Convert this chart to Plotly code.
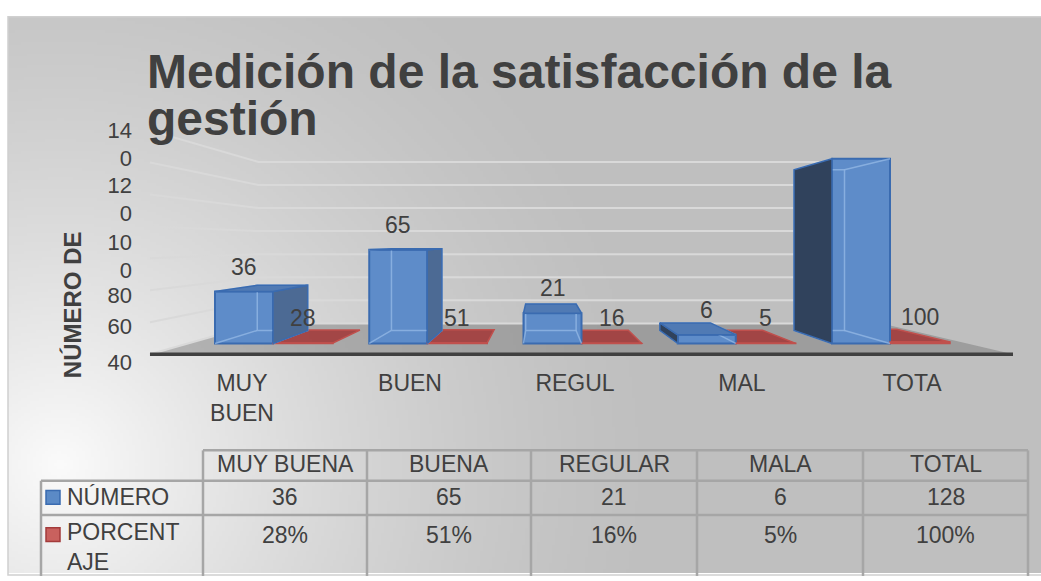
import base64
import struct
import zlib

import numpy as np
import plotly.graph_objects as go

# ---------------- data ----------------
categories = ["MUY BUENA", "BUENA", "REGULAR", "MALA", "TOTAL"]
axis_labels = ["MUY<br>BUEN", "BUEN", "REGUL", "MAL", "TOTA"]
numero = [36, 65, 21, 6, 128]
porcentaje = [28, 51, 16, 5, 100]
series_names = ["NÚMERO", "PORCENTAJE"]
series_legend_labels = ["NÚMERO", "PORCENT<br>AJE"]
y_tick_labels = ["40", "60", "80", "10<br>0", "12<br>0", "14<br>0"]
grid_values = [0, 20, 40, 60, 80, 100, 120, 140]
title_lines = ["Medición de la satisfacción de la", "gestión"]
y_title = "NÚMERO DE"
blue_label_shown = [True, True, True, True, False]

# ---------------- style / geometry ----------------
W, H = 1041, 581
FONT = "Liberation Sans, Arial, Helvetica, sans-serif"
TXT = "#404040"
BLUE_FRONT = "rgb(94,140,201)"
BLUE_EDGE = "#3A6BB0"
BLUE_RIGHT = "rgb(76,106,148)"
BLUE_LEFT = "rgb(48,66,92)"
BLUE_TOP = "rgb(80,122,180)"
BLUE_HIDDEN = "rgba(150,185,230,0.75)"
RED_FILL = "rgba(163,62,62,0.92)"
RED_EDGE = "#C0504D"
GRID = "#D9D9D9"
TABLE_LINE = "#A6A6A6"

PX_X0, PX_DX = 244.0, 154.25     # pixel of category 0, pixels per category
PX_Y0, PX_DV = 347.0, 1.47       # pixel of value 0, pixels per unit
PLOT_L, PLOT_R, PLOT_T, PLOT_B = 133, 1013, 120, 371


def xd(px):
    return (px - PX_X0) / PX_DX


def yd(py):
    return (PX_Y0 - py) / PX_DV


def xp(px):
    return px / W


def yp(py):
    return 1 - py / H


VPX, VPY = xd(540), yd(245)
S_BAR, S_WALL, S_FLOOR = 0.87, 0.80, 1.108
XL, XR = xd(188), xd(967)
HALF_BLUE = 29 / PX_DX
RED_W = 60 / PX_DX
LABEL_SHIFT = 25
y_tick_px = [366, 330, 298, 258, 200, 144]
x_tick_px = [242, 410, 575, 742, 912]


def proj(x, v, s):
    return (VPX + s * (x - VPX), VPY + s * (v - VPY))


def svg_path(points, close=True):
    s = "M " + " L ".join(f"{x:.5f},{y:.5f}" for x, y in points)
    return s + (" Z" if close else "")


def add_poly(xs, ys, pts):
    for x, y in pts:
        xs.append(x)
        ys.append(y)
    xs.append(pts[0][0])
    ys.append(pts[0][1])
    xs.append(None)
    ys.append(None)


# ---------------- gradient background ----------------
def gray_png(arr):
    h, w = arr.shape
    raw = b"".join(b"\x00" + arr[r].tobytes() for r in range(h))

    def chunk(t, data):
        return (struct.pack(">I", len(data)) + t + data
                + struct.pack(">I", zlib.crc32(t + data) & 0xFFFFFFFF))

    ihdr = struct.pack(">IIBBBBB", w, h, 8, 0, 0, 0, 0)
    return (b"\x89PNG\r\n\x1a\n" + chunk(b"IHDR", ihdr)
            + chunk(b"IDAT", zlib.compress(raw, 9)) + chunk(b"IEND", b""))


gw, gh = 345, 189
gx = 8 + (np.arange(gw) + 0.5) * (W - 8) / gw
gy = 14 + (np.arange(gh) + 0.5) * (H - 14) / gh
GX, GY = np.meshgrid(gx, gy)
dist = np.hypot(GX - 60, GY - 470)
fval = np.clip(1 - dist / 620, 0, 1) ** 1.5
gimg = np.clip(191 + 60 * fval, 0, 255).astype(np.uint8)
bg_src = "data:image/png;base64," + base64.b64encode(gray_png(gimg)).decode()

# ---------------- figure ----------------
idx = list(range(len(categories)))
pct_frac = [p / 100 for p in porcentaje]

fig = go.Figure()

# front faces
fig.add_trace(go.Bar(
    x=idx, y=numero, name=series_names[0], width=2 * HALF_BLUE, offset=-HALF_BLUE,
    marker=dict(color=BLUE_FRONT, line=dict(color=BLUE_EDGE, width=2)),
    hoverinfo="skip", showlegend=False))
fig.add_trace(go.Bar(
    x=idx, y=pct_frac, name=series_names[1], width=RED_W, offset=HALF_BLUE,
    marker=dict(color=RED_FILL, line=dict(color=RED_EDGE, width=1.5)),
    hoverinfo="skip", showlegend=False))

# hidden (see-through) edges of the blue bars
hx, hy = [], []
for i, v in zip(idx, numero):
    x0, x1 = i - HALF_BLUE, i + HALF_BLUE
    back = [proj(x0, 0, S_BAR), proj(x1, 0, S_BAR), proj(x1, v, S_BAR), proj(x0, v, S_BAR)]
    add_poly(hx, hy, back)
    for cx, cv in [(x0, 0), (x1, 0), (x1, v), (x0, v)]:
        a, b = proj(cx, cv, 1), proj(cx, cv, S_BAR)
        hx += [a[0], b[0], None]
        hy += [a[1], b[1], None]
fig.add_trace(go.Scatter(x=hx, y=hy, mode="lines", line=dict(color=BLUE_HIDDEN, width=1.5),
                         hoverinfo="skip", showlegend=False))

# side / top faces of blue bars
sx_r, sy_r, sx_l, sy_l, tx, ty = [], [], [], [], [], []
for i, v in zip(idx, numero):
    x0, x1 = i - HALF_BLUE, i + HALF_BLUE
    if x1 < VPX:
        add_poly(sx_r, sy_r, [proj(x1, 0, 1), proj(x1, v, 1), proj(x1, v, S_BAR), proj(x1, 0, S_BAR)])
    if x0 > VPX:
        add_poly(sx_l, sy_l, [proj(x0, 0, 1), proj(x0, v, 1), proj(x0, v, S_BAR), proj(x0, 0, S_BAR)])
    if v < VPY:
        add_poly(tx, ty, [proj(x0, v, 1), proj(x1, v, 1), proj(x1, v, S_BAR), proj(x0, v, S_BAR)])
for xs_, ys_, col in [(sx_r, sy_r, BLUE_RIGHT), (sx_l, sy_l, BLUE_LEFT), (tx, ty, BLUE_TOP)]:
    fig.add_trace(go.Scatter(x=xs_, y=ys_, mode="lines", fill="toself", fillcolor=col,
                             line=dict(color=BLUE_EDGE, width=1.5), hoverinfo="skip",
                             showlegend=False))

# ---------------- shapes ----------------
shapes = []
# chart area border
shapes.append(dict(type="rect", xref="paper", yref="paper", x0=xp(8), x1=xp(W + 2),
                   y0=yp(H + 2), y1=yp(14), line=dict(color="#D0D0D0", width=1.5),
                   fillcolor="rgba(0,0,0,0)", layer="below"))
# floor
floor_pts = [proj(XL, 0, S_FLOOR), proj(XR, 0, S_FLOOR), proj(XR, 0, S_WALL), proj(XL, 0, S_WALL)]
shapes.append(dict(type="path", xref="x", yref="y", path=svg_path(floor_pts),
                   fillcolor="rgba(110,110,110,0.42)", line=dict(width=0), layer="below"))
# gridlines on side and back walls
for g in grid_values:
    pts = [proj(XL, g, S_FLOOR), proj(XL, g, S_WALL), proj(XR, g, S_WALL)]
    shapes.append(dict(type="path", xref="x", yref="y", path=svg_path(pts, close=False),
                       line=dict(color=GRID, width=2), layer="below"))
# floor front edge
a, b = proj(XL, 0, S_FLOOR), proj(XR, 0, S_FLOOR)
shapes.append(dict(type="line", xref="x", yref="y", x0=a[0], y0=a[1], x1=b[0], y1=b[1],
                   line=dict(color="#404040", width=3.5), layer="below"))
# red slabs (flat, at floor level, behind the blue front faces)
for i, h in zip(idx, pct_frac):
    x0, x1 = i + HALF_BLUE, i + HALF_BLUE + RED_W
    pts = [proj(x0, h, 1), proj(x1, h, 1), proj(x1, h, S_BAR), proj(x0, h, S_BAR)]
    shapes.append(dict(type="path", xref="x", yref="y", path=svg_path(pts),
                       fillcolor=RED_FILL, line=dict(color=RED_EDGE, width=1.5), layer="below"))

# data table grid
col_edges = [203, 367, 531, 697, 863, 1028]
row_edges = [456, 487, 522]
TABLE_L, TABLE_B = 41, 584


def hline(x0, x1, y):
    return dict(type="line", xref="paper", yref="paper", x0=xp(x0), x1=xp(x1), y0=yp(y), y1=yp(y),
                line=dict(color=TABLE_LINE, width=2.5))


def vline(x, y0, y1):
    return dict(type="line", xref="paper", yref="paper", x0=xp(x), x1=xp(x), y0=yp(y0), y1=yp(y1),
                line=dict(color=TABLE_LINE, width=2.5))


shapes.append(hline(col_edges[0], col_edges[-1], row_edges[0]))
shapes.append(hline(TABLE_L, col_edges[-1], row_edges[1]))
shapes.append(hline(TABLE_L, col_edges[-1], row_edges[2]))
shapes.append(vline(TABLE_L, row_edges[1], TABLE_B))
for cx in col_edges:
    shapes.append(vline(cx, row_edges[0], TABLE_B))
# legend keys
key_styles = [("rgb(91,138,198)", BLUE_EDGE, 497), ("rgb(201,97,94)", "#A33B3B", 535)]
for fillc, linec, ky in key_styles:
    shapes.append(dict(type="rect", xref="paper", yref="paper", x0=xp(46), x1=xp(60),
                       y0=yp(ky + 14), y1=yp(ky), fillcolor=fillc, line=dict(color=linec, width=1.5)))

# ---------------- annotations ----------------
ann = []
title_font = dict(family=FONT, size=48, color=TXT, weight="bold")
for line, cy in zip(title_lines, [70, 118]):
    ann.append(dict(text=line, xref="paper", yref="paper", x=xp(145), y=yp(cy),
                    xanchor="left", yanchor="middle", showarrow=False, font=title_font))
ann.append(dict(text=y_title, xref="paper", yref="paper", x=xp(72), y=yp(308), textangle=-90,
                xanchor="center", yanchor="middle", showarrow=False,
                font=dict(family=FONT, size=24, color=TXT, weight="bold")))
lab_font = dict(family=FONT, size=23, color=TXT)
for i, v, show in zip(idx, numero, blue_label_shown):
    if show:
        ann.append(dict(text=str(v), x=i, y=v, xref="x", yref="y", yshift=LABEL_SHIFT,
                        showarrow=False, font=lab_font, xanchor="center", yanchor="middle"))
for i, p, h in zip(idx, porcentaje, pct_frac):
    ann.append(dict(text=str(p), x=i + HALF_BLUE + RED_W / 2, y=h, xref="x", yref="y",
                    yshift=LABEL_SHIFT, showarrow=False, font=lab_font,
                    xanchor="center", yanchor="middle"))

# table text
tab_font = dict(family=FONT, size=23, color=TXT)
col_centers = [(col_edges[k] + col_edges[k + 1]) / 2 for k in range(len(categories))]
row_centers = [470, 504, 542]
table_rows = [categories, [str(v) for v in numero], [f"{p}%" for p in porcentaje]]
for rc, row in zip(row_centers, table_rows):
    for c, txt in zip(col_centers, row):
        ann.append(dict(text=txt, xref="paper", yref="paper", x=xp(c), y=yp(rc),
                        xanchor="center", yanchor="middle", showarrow=False, font=tab_font))
for lbl, cy in zip(series_legend_labels, [504, 555]):
    ann.append(dict(text=lbl, xref="paper", yref="paper", x=xp(65), y=yp(cy),
                    xanchor="left", yanchor="middle", align="left", showarrow=False,
                    font=tab_font))

fig.update_layout(
    autosize=True, margin=dict(l=0, r=0, t=0, b=0),
    paper_bgcolor="white", plot_bgcolor="rgba(0,0,0,0)",
    barmode="overlay", showlegend=False,
    font=dict(family=FONT, color=TXT),
    shapes=shapes, annotations=ann,
    images=[dict(source=bg_src, xref="paper", yref="paper", x=xp(8), y=yp(14),
                 sizex=(W - 8) / W, sizey=(H - 14) / H, sizing="stretch",
                 xanchor="left", yanchor="top", layer="below")],
    xaxis=dict(domain=[xp(PLOT_L), xp(PLOT_R)], range=[xd(PLOT_L), xd(PLOT_R)],
               tickvals=[xd(p) for p in x_tick_px], ticktext=axis_labels,
               showgrid=False, zeroline=False, showline=False, ticks="",
               tickfont=dict(family=FONT, size=23, color=TXT), fixedrange=True),
    yaxis=dict(domain=[yp(PLOT_B), yp(PLOT_T)], range=[yd(PLOT_B), yd(PLOT_T)],
               tickvals=[yd(p) for p in y_tick_px], ticktext=y_tick_labels,
               showgrid=False, zeroline=False, showline=False, ticks="",
               tickfont=dict(family=FONT, size=22, color=TXT), fixedrange=True),
)

fig.write_html(
    "out.html", config=dict(displayModeBar=False),
    default_width="100vw", default_height="100vh",
    post_script=("document.documentElement.style.margin='0';"
                 "document.documentElement.style.overflow='hidden';"
                 "document.body.style.margin='0';"
                 "document.body.style.overflow='hidden';"))
